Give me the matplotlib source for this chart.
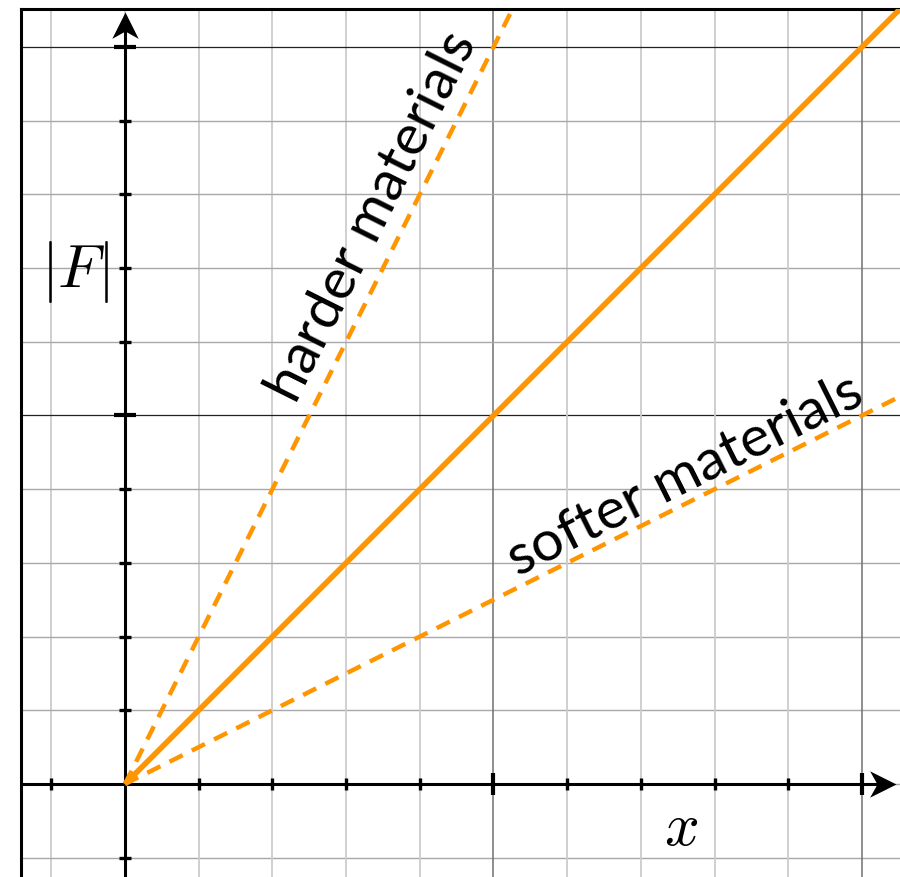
import numpy as np
import matplotlib.pyplot as plt
from matplotlib.path import Path
from matplotlib.markers import MarkerStyle
from matplotlib.transforms import Affine2D

plt.rcParams['mathtext.fontset'] = 'cm'

# spring extension and force for three stiffnesses
x_vals = [0.0, 2.3]
F_normal = [0.0, 2.3]
F_hard = [0.0, 4.6]
F_soft = [0.0, 1.15]

tick_pos = [-0.2, 0.2, 0.4, 0.6, 0.8, 1.0, 1.2, 1.4, 1.6, 1.8, 2.0]
major_pos = [1.0, 2.0]
grid_pos = [-0.2, 0.0, 0.2, 0.4, 0.6, 0.8, 1.0, 1.2, 1.4, 1.6, 1.8, 2.0]

orange = '#ff9500'

fig = plt.figure(figsize=(9, 8.78), dpi=100)
ax = fig.add_axes([21 / 900, 0, 879 / 900, 868 / 878])
ax.set_xlim(-0.2822, 2.1031)
ax.set_ylim(-0.2524, 2.1031)

# grid
for g in grid_pos:
    if g in major_pos:
        ax.axvline(g, color='#707070', lw=1.1, zorder=1)
        ax.axhline(g, color='#202020', lw=0.9, zorder=1)
    else:
        ax.axvline(g, color='#cccccc', lw=1.3, zorder=1)
        ax.axhline(g, color='#a8a8a8', lw=1.0, zorder=1)

# axes with arrow heads
ax.plot([-0.3, 2.07], [0, 0], color='black', lw=2.2, zorder=3, solid_capstyle='butt')
ax.plot([0, 0], [-0.3, 2.07], color='black', lw=2.2, zorder=3, solid_capstyle='butt')
head = Path([(0, 0), (-1, 0.5), (-0.72, 0), (-1, -0.5), (0, 0)],
            [Path.MOVETO, Path.LINETO, Path.LINETO, Path.LINETO, Path.CLOSEPOLY])
ax.plot(2.092, 0, marker=MarkerStyle(head), ms=38, color='black', mew=0, zorder=4)
ax.plot(0, 2.095, marker=MarkerStyle(head, transform=Affine2D().rotate_deg(90)),
        ms=38, color='black', mew=0, zorder=4)

# tick marks on the axes
for t in tick_pos:
    big = t in major_pos
    ax.plot(t, 0, marker='|', ms=16 if big else 8, mew=3.0 if big else 2.4,
            color='black', zorder=4)
    ax.plot(0, t, marker='_', ms=16 if big else 8, mew=3.0 if big else 2.4,
            color='black', zorder=4)

# force lines
ax.plot(x_vals, F_normal, color=orange, lw=4.0, zorder=5, solid_capstyle='butt')
ax.plot(x_vals, F_hard, color=orange, lw=3.2, dashes=(3.3, 2.3), zorder=5)
ax.plot(x_vals, F_soft, color=orange, lw=3.2, dashes=(3.3, 2.3), zorder=5)

ax.text(-0.136, 1.392, r'$|F|$', fontsize=44, ha='center', va='center', zorder=6)
ax.text(1.509, -0.117, r'$x$', fontsize=44, ha='center', va='center', zorder=6)

ax.text(0.672, 1.542, 'harder materials', fontsize=41, family='Lato',
        rotation=np.degrees(np.arctan(2)), rotation_mode='anchor',
        ha='center', va='center', zorder=6)
ax.text(1.520, 0.838, 'softer materials', fontsize=41, family='Lato',
        rotation=np.degrees(np.arctan(0.5)), rotation_mode='anchor',
        ha='center', va='center', zorder=6)

ax.set_xticks([])
ax.set_yticks([])
for side in ['right', 'bottom']:
    ax.spines[side].set_visible(False)
for side in ['top', 'left']:
    ax.spines[side].set_linewidth(2.2)

fig.savefig('out.png', dpi=100)
